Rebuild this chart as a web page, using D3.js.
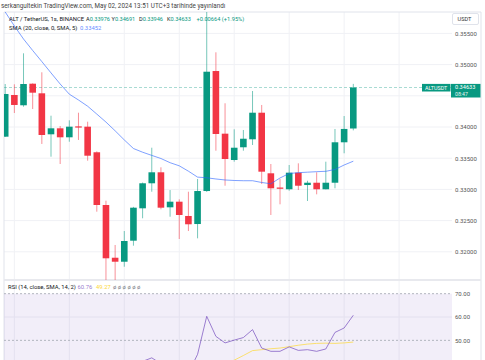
<!DOCTYPE html>
<html><head><meta charset="utf-8">
<script src="https://cdn.jsdelivr.net/npm/d3@7"></script>
<style>html,body{margin:0;padding:0;background:#fff;}svg{display:block;font-family:Roboto,"Liberation Sans",Arial,sans-serif;}</style>
</head><body>
<svg id="c" width="485" height="360"></svg>
<script>
// ---- data ----
const open  = [0.33845,0.34513,0.34348,0.34694,0.34540,0.33883,0.33979,0.33835,0.34010,0.34005,0.33595,0.32750,0.31905,0.31841,0.32178,0.32697,0.33098,0.33274,0.32713,0.32803,0.32574,0.32445,0.32974,0.34897,0.33893,0.33471,0.33675,0.33803,0.34229,0.33258,0.33030,0.33002,0.33268,0.33070,0.33107,0.33002,0.33107,0.33755,0.33976];
const high  = [0.34689,0.34684,0.35181,0.34700,0.34877,0.34181,0.34016,0.34107,0.34229,0.34085,0.33610,0.32819,0.32109,0.32333,0.32720,0.33110,0.33668,0.33354,0.32990,0.32841,0.32963,0.33167,0.36000,0.35197,0.34380,0.33963,0.33952,0.34577,0.34353,0.33407,0.33167,0.33391,0.33418,0.33139,0.33274,0.33444,0.33968,0.34176,0.34691];
const low   = [0.33840,0.34224,0.34325,0.34288,0.33728,0.33524,0.33407,0.33764,0.33792,0.33460,0.32643,0.31548,0.31548,0.31761,0.32098,0.32537,0.32963,0.32681,0.32562,0.32205,0.32333,0.32216,0.32960,0.33620,0.33059,0.33444,0.33620,0.33712,0.33087,0.32590,0.32761,0.32979,0.32990,0.32814,0.32921,0.33000,0.33018,0.33579,0.33946];
const close = [0.34529,0.34353,0.34689,0.34550,0.33872,0.33979,0.33835,0.34005,0.34000,0.33540,0.32750,0.31896,0.31841,0.32173,0.32707,0.33098,0.33274,0.32707,0.32803,0.32590,0.32441,0.32974,0.34886,0.33888,0.33487,0.33668,0.33812,0.34229,0.33284,0.33018,0.33010,0.33268,0.33059,0.33107,0.33002,0.33107,0.33755,0.33969,0.34633];
const sma   = [0.35843,0.35619,0.35410,0.35226,0.35048,0.34867,0.34689,0.34526,0.34433,0.34333,0.34207,0.34079,0.33939,0.33793,0.33655,0.33596,0.33545,0.33495,0.33428,0.33378,0.33292,0.33197,0.33186,0.33167,0.33151,0.33143,0.33139,0.33139,0.33111,0.33090,0.33183,0.33255,0.33268,0.33276,0.33284,0.33290,0.33319,0.33391,0.33452];
const rsi   = [39,37,40.5,39,35,36,35,37,37,33,28,23,23,29,35,41,42.5,40,41,38,36,44,60.3,51.7,48.9,50.1,51.2,54.6,46.7,45.3,45.3,47.2,45.7,46.0,45.3,46.3,53.4,55.3,60.76];
const rsiSma= [40,39.5,39,38.5,38,37.5,37,36.5,36,35.5,35,34,33,32.5,32,32,32,32.5,33,33.5,34,35,37,38.5,40,41.5,43.5,45.6,46.0,46.4,46.7,47.3,47.9,48.4,48.7,48.8,48.7,48.9,49.27];
const priceTicks = [0.320,0.325,0.330,0.335,0.340,0.345,0.350,0.355];
const priceLabels = [0.320,0.325,0.330,0.335,0.340,0.350,0.355];
const rsiTicks = [50,60,70];
const timeGridIdx = [1,7,13,19,25,31,37,43];
const lastPrice = 0.34633;

// ---- layout ----
const svg = d3.select("#c");
const L = 4, R = 481, axisX = 452, T = 12, SEP = 280, B = 360;
const GREEN = "#089981", RED = "#f23645";
const n = close.length;
const x = d3.scaleLinear().domain([0, n - 1]).range([5.2, 353.3]);
const y = d3.scaleLinear().domain([0.320, 0.355]).range([251.8, 33.4]);
const yr = d3.scaleLinear().domain([30, 70]).range([387, 293.7]);
const bw = 6.6;
const f5 = d3.format(".5f");
const FS = 5.9;

svg.append("defs").html(
 `<clipPath id="cp"><rect x="${L}" y="${T}" width="${axisX-L}" height="${SEP-T}"/></clipPath>
  <clipPath id="cr"><rect x="${L}" y="${SEP}" width="${axisX-L}" height="${B-SEP}"/></clipPath>`);

// header
svg.append("text").attr("x", 1).attr("y", 8).attr("font-size", 6.3).attr("fill", "#444")
  .text("serkangultekin TradingView.com, May 02, 2024 13:51 UTC+3 tarihinde yayınlandı");

// grids
const grid = svg.append("g").attr("stroke", "#f0f1f5").attr("stroke-width", 1);
grid.selectAll(".v").data(timeGridIdx).join("line")
  .attr("x1", d => x(d)).attr("x2", d => x(d)).attr("y1", T).attr("y2", B);
grid.selectAll(".h").data(priceTicks).join("line")
  .attr("x1", L).attr("x2", axisX).attr("y1", d => y(d)).attr("y2", d => y(d));
grid.selectAll(".hr").data([60]).join("line")
  .attr("x1", L).attr("x2", axisX).attr("y1", d => yr(d)).attr("y2", d => yr(d));

// frame
const fr = svg.append("g").attr("stroke", "#e0e3eb").attr("stroke-width", 1).attr("fill", "none");
fr.append("line").attr("x1", L).attr("x2", R).attr("y1", T).attr("y2", T);
fr.append("line").attr("x1", L).attr("x2", L).attr("y1", T).attr("y2", B);
fr.append("line").attr("x1", R).attr("x2", R).attr("y1", T).attr("y2", B);
fr.append("line").attr("x1", L).attr("x2", R).attr("y1", SEP).attr("y2", SEP).attr("stroke", "#e8e9ee").attr("stroke-width", 2);

// price pane
const pp = svg.append("g").attr("clip-path", "url(#cp)");
pp.append("line").attr("x1", L).attr("x2", axisX).attr("y1", y(lastPrice)).attr("y2", y(lastPrice))
  .attr("stroke", GREEN).attr("stroke-opacity", 0.35).attr("stroke-dasharray", "3,2");
const idx = d3.range(n);
pp.selectAll(".wick").data(idx).join("line")
  .attr("x1", i => x(i)).attr("x2", i => x(i))
  .attr("y1", i => y(high[i])).attr("y2", i => y(low[i]))
  .attr("stroke", i => close[i] >= open[i] ? GREEN : RED).attr("stroke-opacity", 0.55).attr("stroke-width", 1);
pp.selectAll(".body").data(idx).join("rect")
  .attr("x", i => x(i) - bw / 2).attr("width", bw)
  .attr("y", i => y(Math.max(open[i], close[i])))
  .attr("height", i => Math.max(1.2, Math.abs(y(open[i]) - y(close[i]))))
  .attr("fill", i => close[i] >= open[i] ? GREEN : RED);
pp.append("path").datum(idx)
  .attr("d", d3.line().x(i => x(i)).y(i => y(sma[i])))
  .attr("fill", "none").attr("stroke", "#2962ff").attr("stroke-opacity", 0.6).attr("stroke-width", 1);

// price axis
const ax = svg.append("g").attr("transform", `translate(${axisX},0)`)
  .call(d3.axisRight(y).tickValues(priceLabels).tickFormat(f5).tickSize(0).tickPadding(3));
ax.select(".domain").remove();
ax.selectAll("text").attr("font-size", 6.0).attr("fill", "#555").attr("font-family", "Roboto, 'Liberation Sans', Arial, sans-serif");

// USDT box
svg.append("rect").attr("x", 452.5).attr("y", 13.5).attr("width", 26).attr("height", 11).attr("rx", 1.5)
  .attr("fill", "#fff").attr("stroke", "#e0e3eb");
svg.append("text").attr("x", 464.5).attr("y", 21.1).attr("text-anchor", "middle").attr("font-size", 5.6).attr("fill", "#333").text("USDT");

// last price labels
const ly = y(lastPrice);
svg.append("rect").attr("x", 422).attr("y", ly - 3.6).attr("width", 28.5).attr("height", 7.6).attr("fill", GREEN);
svg.append("text").attr("x", 436.2).attr("y", ly + 2.0).attr("text-anchor", "middle").attr("font-size", 5.4).attr("fill", "#fff").text("ALTUSDT");
svg.append("rect").attr("x", 451).attr("y", ly - 3.6).attr("width", 29.5).attr("height", 13.6).attr("fill", GREEN);
svg.append("text").attr("x", 455).attr("y", ly + 1.9).attr("font-size", 5.6).attr("fill", "#fff").text(f5(lastPrice));
svg.append("text").attr("x", 455).attr("y", ly + 8.7).attr("font-size", 5.2).attr("fill", "#e6f5f2").text("08:47");

// legend
const lg = svg.append("text").attr("y", 21).attr("font-size", FS).attr("fill", "#131722");
lg.append("tspan").attr("x", 9).text("ALT / TetherUS, 1s, BINANCE");
const ohlcX = [86, 111.5, 139, 167];
[["A", open[n-1]], ["Y", high[n-1]], ["D", low[n-1]], ["K", close[n-1]]].forEach(([k, v], j) => {
  lg.append("tspan").attr("x", ohlcX[j]).attr("font-size", 5.6).text(k);
  lg.append("tspan").attr("font-size", 5.6).attr("fill", GREEN).text(f5(v));
});
const chg = close[n-1] - close[n-2];
lg.append("tspan").attr("x", 196.5).attr("font-size", 5.7).attr("fill", GREEN).text("+" + f5(chg) + " (+" + d3.format(".2f")(chg / close[n-2] * 100) + "%)");
const lg2 = svg.append("text").attr("x", 9).attr("y", 29.5).attr("font-size", FS).attr("fill", "#131722");
lg2.append("tspan").text("SMA (20, close, 0, SMA, 5)");
lg2.append("tspan").attr("x", 80).attr("fill", "#2962ff").attr("fill-opacity", 0.75).text(f5(sma[n-1]));

// RSI pane
const rp = svg.append("g").attr("clip-path", "url(#cr)");
rp.append("rect").attr("x", L).attr("width", axisX - L).attr("y", yr(70)).attr("height", yr(30) - yr(70))
  .attr("fill", "#7e57c2").attr("fill-opacity", 0.1);
rp.selectAll(".band").data([70, 50]).join("line")
  .attr("x1", L).attr("x2", axisX).attr("y1", d => yr(d)).attr("y2", d => yr(d))
  .attr("stroke", "#b2b5be").attr("stroke-dasharray", "2,2").attr("stroke-width", 1);
rp.append("path").datum(idx).attr("d", d3.line().x(i => x(i)).y(i => yr(rsiSma[i])))
  .attr("fill", "none").attr("stroke", "#fdd835").attr("stroke-opacity", 0.7).attr("stroke-width", 1);
rp.append("path").datum(idx).attr("d", d3.line().x(i => x(i)).y(i => yr(rsi[i])))
  .attr("fill", "none").attr("stroke", "#7e57c2").attr("stroke-opacity", 0.75).attr("stroke-width", 1);

const rax = svg.append("g").attr("transform", `translate(${axisX},0)`)
  .call(d3.axisRight(yr).tickValues(rsiTicks).tickFormat(d3.format(".2f")).tickSize(0).tickPadding(3));
rax.select(".domain").remove();
rax.selectAll("text").attr("font-size", 6.0).attr("fill", "#555").attr("font-family", "Roboto, 'Liberation Sans', Arial, sans-serif");

const rl = svg.append("text").attr("y", 289).attr("font-size", FS).attr("fill", "#131722");
rl.append("tspan").attr("x", 8).text("RSI (14, close, SMA, 14, 2)");
rl.append("tspan").attr("x", 77.5).attr("fill", "#7e57c2").attr("fill-opacity", 0.8).text(d3.format(".2f")(rsi[n-1]));
rl.append("tspan").attr("x", 96).attr("fill", "#fdd835").text(d3.format(".2f")(rsiSma[n-1]));
rl.append("tspan").attr("x", 113).attr("fill", "#787b86").text("ø  ø  ø  ø  ø  ø");
</script>
</body></html>
